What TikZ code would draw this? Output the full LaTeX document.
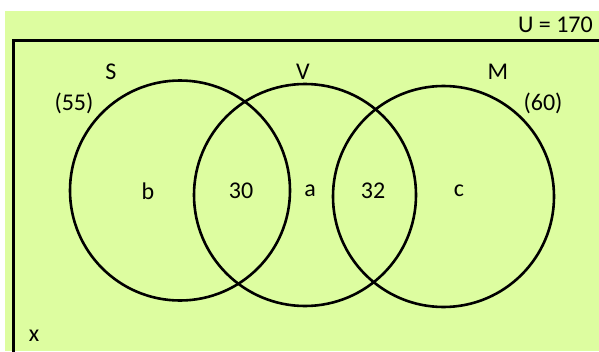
\documentclass[tikz,border=0pt]{standalone}
\usepackage{fontspec}
\setmainfont{Carlito}
\definecolor{sfondo}{RGB}{221,253,160}
\begin{document}
\begin{tikzpicture}[x=1pt,y=-1pt,
    insieme/.style={line width=2.6pt, black},
    etichetta/.style={font=\fontsize{24}{24}\selectfont, inner sep=0pt}]
    \useasboundingbox (0,0) rectangle (599,351);

    % Sfondo e universo
    \fill[sfondo] (5,11) rectangle (599,351);
    \draw[line width=3pt] (13.5,360) -- (13.5,40) -- (610,40);

    % Contorni dei cerchi
    \draw[insieme] (180,190.5) circle (110pt);
    \draw[insieme] (305,195) circle (111pt);
    \draw[insieme] (443.5,196.5) circle (110.5pt);

    % Etichette
    \node[etichetta] (nomeS) at (111,72) {S};
    \node[etichetta] (nomeV) at (303,72) {V};
    \node[etichetta] (nomeM) at (498,72) {M};
    \node[etichetta] (totS) at (74,103) {(55)};
    \node[etichetta] (totM) at (543,103) {(60)};
    \node[etichetta] (zonaB) at (148,191) {b};
    \node[etichetta] (zonaSV) at (241,191) {30};
    \node[etichetta] (zonaA) at (310,191) {a};
    \node[etichetta] (zonaVM) at (373,191) {32};
    \node[etichetta] (zonaC) at (459,191) {c};
    \node[etichetta, anchor=east] (totU) at (593,25) {U = 170};
    \node[etichetta] (esterno) at (34,336) {x};
\end{tikzpicture}
\end{document}
